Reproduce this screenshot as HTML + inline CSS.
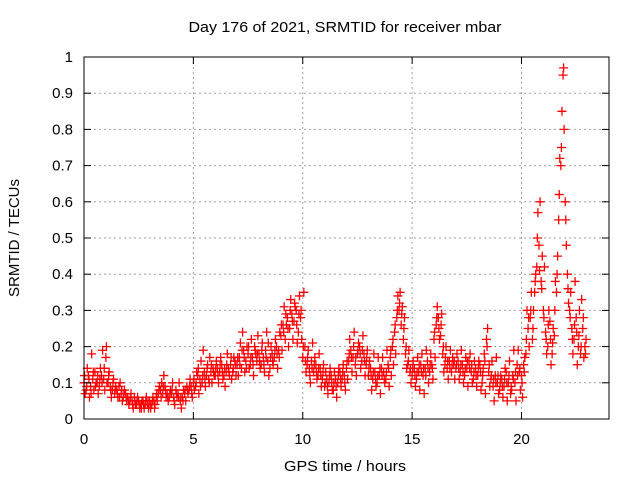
<!DOCTYPE html>
<html><head><meta charset="utf-8"><style>
body{margin:0;background:#fff}
svg{display:block;font-family:"Liberation Sans",sans-serif}
</style></head><body>
<svg width="640" height="480">
<g id="grid"></g>
<g id="marks"></g>
<rect x="84" y="57" width="525" height="362" fill="none" stroke="#000"/>
<g id="ticks"></g>
<text x="345" y="32" font-size="15" textLength="313" lengthAdjust="spacingAndGlyphs" text-anchor="middle">Day 176 of 2021, SRMTID for receiver mbar</text>
<text x="345" y="471" font-size="15" textLength="122" lengthAdjust="spacingAndGlyphs" text-anchor="middle">GPS time / hours</text>
<text transform="translate(19,238) rotate(-90)" font-size="15" textLength="118" lengthAdjust="spacingAndGlyphs" text-anchor="middle">SRMTID / TECUs</text>
</svg>
<script>
const xTicks=[0,5,10,15,20];
const yTicks=[0,0.1,0.2,0.3,0.4,0.5,0.6,0.7,0.8,0.9,1];
const yTickLabels=["0","0.1","0.2","0.3","0.4","0.5","0.6","0.7","0.8","0.9","1"];
const seriesA=[.10,.08,.12,.09,.11,.13,.10,.09,.12,.11,
.17,.10,.09,.08,.07,.08,.09,.07,.06,.07,
.06,.05,.05,.06,.04,.05,.04,.05,.04,.04,
.05,.04,.05,.06,.07,.08,.07,.09,.07,.06,
.07,.06,.08,.07,.05,.06,.07,.09,.08,.09,
.10,.09,.12,.11,.10,.13,.12,.11,.13,.14,
.12,.14,.13,.15,.12,.13,.14,.15,.13,.16,
.15,.17,.14,.19,.16,.18,.15,.17,.20,.16,
.18,.15,.17,.19,.16,.14,.18,.17,.20,.19,
.23,.26,.22,.28,.25,.29,.27,.30,.24,.28,
.17,.20,.15,.14,.16,.13,.15,.12,.14,.11,
.09,.11,.10,.12,.08,.11,.10,.13,.11,.12,
.14,.16,.19,.17,.15,.18,.20,.16,.18,.15,
.12,.14,.11,.13,.10,.12,.14,.13,.11,.15,
.17,.20,.24,.28,.30,.26,.22,.18,.15,.13,
.12,.14,.11,.13,.15,.12,.14,.16,.13,.15,
.22,.26,.28,.23,.18,.15,.14,.16,.13,.15,
.14,.16,.13,.15,.12,.14,.16,.13,.11,.14,
.12,.15,.10,.18,.22,.13,.11,.09,.12,.10,
.08,.11,.09,.13,.10,.07,.12,.10,.15,.13,
.12,.15,.18,.25,.28,.22,.35,.42,.48,.38,
.30,.24,.20,.27,.18,.23,.35,.55,.70,.95,
.60,.40,.30,.25,.22,.28,.20,.18,.25,.20];
const seriesB=[.07,.14,.06,.18,.08,.10,.07,.14,.19,.08,
.10,.13,.06,.11,.09,.06,.10,.05,.08,.05,
.04,.07,.03,.04,.06,.03,.05,.03,.06,.03,
.03,.06,.04,.05,.09,.10,.12,.06,.05,.08,
.10,.04,.06,.10,.03,.08,.05,.07,.11,.06,
.08,.13,.07,.16,.19,.09,.15,.17,.10,.12,
.16,.10,.17,.11,.09,.18,.12,.11,.17,.12,
.12,.21,.24,.13,.20,.14,.22,.12,.18,.23,
.14,.21,.13,.24,.12,.20,.15,.22,.14,.24,
.19,.31,.26,.20,.33,.22,.31,.21,.34,.22,
.35,.13,.19,.10,.21,.17,.11,.18,.09,.15,
.13,.07,.14,.08,.13,.06,.14,.09,.15,.08,
.11,.22,.13,.24,.12,.21,.14,.23,.12,.19,
.16,.08,.18,.09,.17,.07,.17,.10,.19,.09,
.12,.15,.18,.34,.35,.31,.28,.14,.19,.10,
.16,.09,.17,.08,.18,.07,.19,.10,.18,.11,
.17,.31,.22,.29,.13,.20,.11,.19,.17,.11,
.18,.11,.19,.10,.17,.09,.18,.10,.16,.09,
.16,.08,.14,.07,.25,.09,.16,.05,.17,.07,
.12,.06,.14,.05,.16,.08,.19,.05,.19,.08,
.06,.17,.30,.20,.35,.30,.40,.57,.60,.45,
.42,.18,.30,.15,.25,.38,.45,.72,.85,.80,
.48,.32,.35,.18,.38,.15,.30,.33,.17,.22];
const seriesC=[.12,.09,.11,.07,.13,.09,.12,.11,.10,.14,
.20,.12,.08,.10,.08,.07,.06,.08,.07,.06,
.05,.06,.04,.05,.05,.04,.03,.04,.05,.05,
.04,.05,.03,.07,.08,.06,.09,.08,.06,.07,
.08,.05,.07,.06,.06,.05,.08,.08,.09,.07,
.11,.10,.14,.09,.12,.11,.14,.10,.15,.13,
.14,.12,.15,.13,.14,.15,.13,.17,.14,.15,
.17,.15,.19,.17,.14,.20,.17,.15,.19,.18,
.16,.19,.15,.17,.21,.17,.16,.19,.18,.17,
.26,.24,.29,.25,.30,.27,.32,.26,.29,.30,
.20,.16,.17,.12,.14,.15,.13,.14,.12,.13,
.10,.09,.12,.10,.10,.09,.12,.11,.13,.10,
.16,.18,.17,.20,.17,.19,.18,.19,.16,.17,
.14,.12,.13,.11,.12,.14,.12,.11,.13,.14,
.19,.22,.26,.30,.32,.29,.25,.20,.16,.14,
.14,.12,.13,.15,.13,.14,.12,.14,.15,.14,
.24,.28,.25,.26,.20,.17,.16,.14,.15,.16,
.15,.14,.15,.13,.14,.16,.14,.15,.13,.12,
.14,.13,.12,.16,.20,.15,.12,.11,.10,.12,
.10,.09,.11,.10,.12,.09,.11,.13,.12,.14,
.10,.13,.22,.28,.30,.25,.38,.50,.41,.36,
.28,.22,.26,.22,.21,.30,.40,.62,.75,.97,
.55,.36,.28,.22,.26,.24,.23,.20,.28,.18];
const timeStep=0.1;
const NS="http://www.w3.org/2000/svg";
const X=h=>84+h*525/24, Y=v=>419-v*362;
function mk(tag,attrs,parent){const e=document.createElementNS(NS,tag);for(const k in attrs)e.setAttribute(k,attrs[k]);parent.appendChild(e);return e;}
const grid=document.getElementById('grid'),ticks=document.getElementById('ticks'),marks=document.getElementById('marks');
xTicks.forEach(t=>{
  if(t>0){const g=mk('line',{x1:X(t),x2:X(t),y1:57,y2:419,stroke:'#a0a0a0','stroke-dasharray':'2,3'},grid);
  
  }
  mk('line',{x1:X(t),x2:X(t),y1:419,y2:412,stroke:'#000'},ticks);
  mk('line',{x1:X(t),x2:X(t),y1:57,y2:64,stroke:'#000'},ticks);
  const l=mk('text',{x:X(t),y:444,'font-size':15,'text-anchor':'middle'},ticks);l.textContent=t;
  
  
});
yTicks.forEach((v,i)=>{
  if(v>0&&v<1){const g=mk('line',{x1:84,x2:609,y1:Y(v),y2:Y(v),stroke:'#a0a0a0','stroke-dasharray':'2,3'},grid);
  
  }
  mk('line',{x1:84,x2:91,y1:Y(v),y2:Y(v),stroke:'#000'},ticks);
  mk('line',{x1:609,x2:602,y1:Y(v),y2:Y(v),stroke:'#000'},ticks);
  const l=mk('text',{x:73,y:Y(v)+5,'font-size':15,'text-anchor':'end'},ticks);l.textContent=yTickLabels[i];
  
  
});
function plus(t,v){
  const x=X(t),y=Y(v);
  const p=mk('path',{d:`M${x-4.5} ${y}H${x+4.5}M${x} ${y-4.5}V${y+4.5}`,stroke:'#f00','stroke-width':1.3,fill:'none'},marks);
  
  
}
seriesA.forEach((v,i)=>plus(i*timeStep,v));
seriesB.forEach((v,i)=>plus(i*timeStep+timeStep/2,v));
seriesC.forEach((v,i)=>plus(i*timeStep+timeStep/4,v));
</script>
</body></html>
